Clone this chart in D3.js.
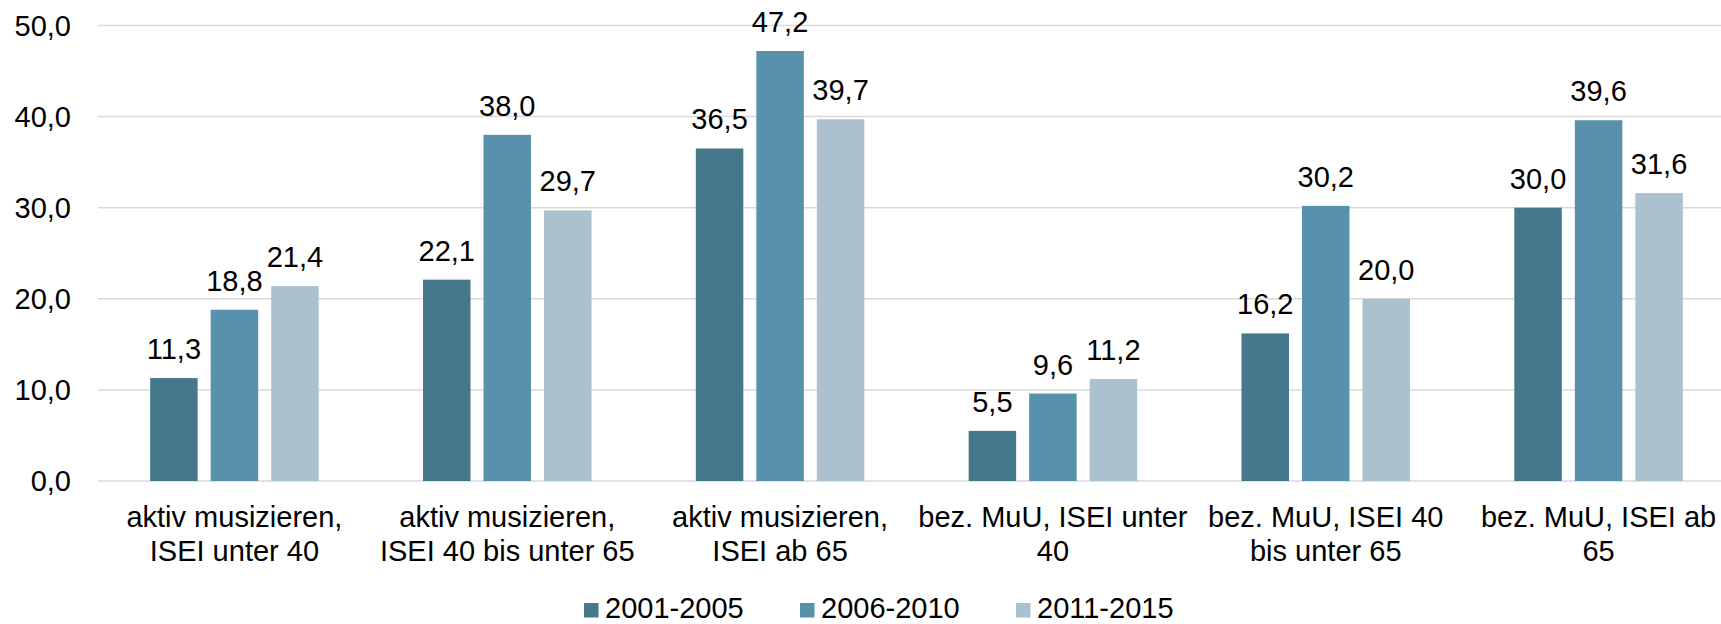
<!DOCTYPE html>
<html>
<head>
<meta charset="utf-8">
<script src="https://cdn.jsdelivr.net/npm/d3@7"></script>
<style>
  body { margin: 0; background: #fff; }
  svg text { font-family: "Liberation Sans", Arial, sans-serif; fill: #000; }
</style>
</head>
<body>
<div id="chart"></div>
<script>
"use strict";

// categories, wrapped the way the original shows them
var categoryLines = [
  ["aktiv musizieren,", "ISEI unter 40"],
  ["aktiv musizieren,", "ISEI 40 bis unter 65"],
  ["aktiv musizieren,", "ISEI ab 65"],
  ["bez. MuU, ISEI unter", "40"],
  ["bez. MuU, ISEI 40", "bis unter 65"],
  ["bez. MuU, ISEI ab", "65"]
];
var categories = categoryLines.map(function(l){ return l.join(" "); });

var seriesNames = ["2001-2005", "2006-2010", "2011-2015"];
var values2001 = [11.3, 22.1, 36.5, 5.5, 16.2, 30.0];
var values2006 = [18.8, 38.0, 47.2, 9.6, 30.2, 39.6];
var values2011 = [21.4, 29.7, 39.7, 11.2, 20.0, 31.6];
var yTicks = [0, 10, 20, 30, 40, 50];
var colors = ["#46788c", "#5891ab", "#abc1cd"];

var seriesValues = [values2001, values2006, values2011];

var width = 1721;
var height = 624;
var fontSize = 29;

var de = d3.formatLocale({decimal: ",", thousands: ".", grouping: [3], currency: ["", " €"]});
var fmt = de.format(".1f");

var svg = d3.select("#chart").append("svg")
  .attr("width", width)
  .attr("height", height);

var x0 = d3.scaleBand()
  .domain(categories)
  .range([98, 1735]);

var x1 = d3.scaleBand()
  .domain(seriesNames)
  .range([0, x0.bandwidth()])
  .paddingInner(0.215)
  .paddingOuter(0.862);

var y = d3.scaleLinear()
  .domain([0, 50])
  .range([481, 25.5]);

// gridlines
svg.append("g")
  .selectAll("line")
  .data(yTicks)
  .enter()
    .append("line")
      .attr("x1", 98)
      .attr("x2", width)
      .attr("y1", function(d){ return y(d); })
      .attr("y2", function(d){ return y(d); })
      .attr("stroke", "#d9d9d9")
      .attr("stroke-width", 1.5);

// y tick labels
svg.append("g")
  .selectAll("text")
  .data(yTicks)
  .enter()
    .append("text")
      .attr("x", 71)
      .attr("y", function(d){ return y(d); })
      .attr("dy", "0.35em")
      .attr("text-anchor", "end")
      .attr("font-size", fontSize)
      .text(function(d){ return fmt(d); });

// bars
var rows = [];
categories.forEach(function(c, i){
  seriesNames.forEach(function(s, j){
    rows.push({cat: c, series: s, value: seriesValues[j][i], idx: j});
  });
});

var bars = svg.append("g");
bars.selectAll("rect")
  .data(rows)
  .enter()
    .append("rect")
      .attr("x", function(d){ return x0(d.cat) + x1(d.series); })
      .attr("y", function(d){ return y(d.value); })
      .attr("width", x1.bandwidth())
      .attr("height", function(d){ return y(0) - y(d.value); })
      .attr("fill", function(d){ return colors[d.idx]; });

// value labels
bars.selectAll("text")
  .data(rows)
  .enter()
    .append("text")
      .attr("x", function(d){ return x0(d.cat) + x1(d.series) + x1.bandwidth() / 2; })
      .attr("y", function(d){ return y(d.value) - 19; })
      .attr("text-anchor", "middle")
      .attr("font-size", fontSize)
      .text(function(d){ return fmt(d.value); });

// category labels
var catG = svg.append("g");
categoryLines.forEach(function(lines, i){
  var t = catG.append("text")
    .attr("x", x0(categories[i]) + x0.bandwidth() / 2)
    .attr("y", 527)
    .attr("text-anchor", "middle")
    .attr("font-size", fontSize);
  lines.forEach(function(line, k){
    t.append("tspan")
      .attr("x", x0(categories[i]) + x0.bandwidth() / 2)
      .attr("y", 527 + k * 34)
      .text(line);
  });
});

// legend (nudged up a little so the text box stays inside the frame)
var legend = svg.append("g")
  .selectAll("g")
  .data(seriesNames)
  .enter()
    .append("g")
      .attr("transform", function(d, i){ return "translate(" + (584 + i * 216) + ",0)"; });

legend.append("rect")
  .attr("x", 0)
  .attr("y", 603)
  .attr("width", 14.5)
  .attr("height", 14.5)
  .attr("fill", function(d, i){ return colors[i]; });

legend.append("text")
  .attr("x", 21)
  .attr("y", 618)
  .attr("font-size", fontSize)
  .text(function(d){ return d; });
</script>
</body>
</html>
